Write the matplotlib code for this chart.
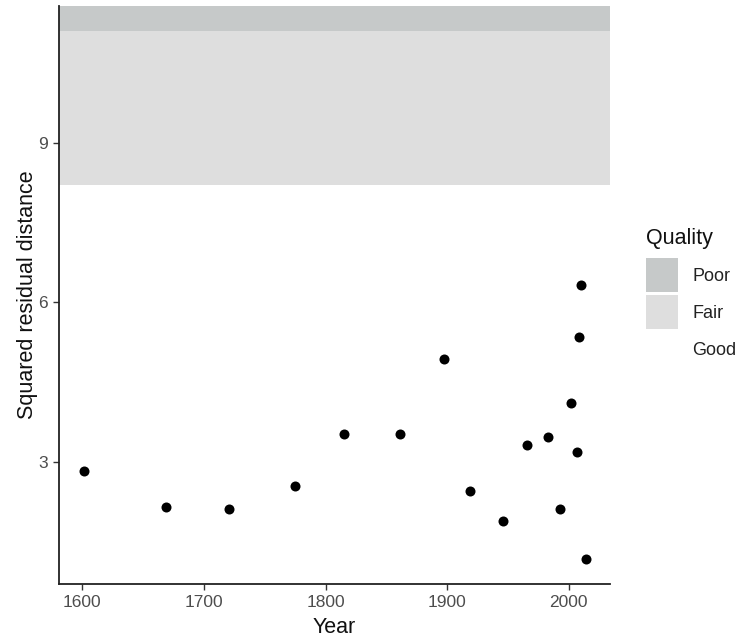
import numpy as np
import matplotlib.pyplot as plt
from matplotlib.patches import Patch

plt.rcParams['font.family'] = ['Liberation Sans', 'DejaVu Sans']

# Residuals per year
years = [1601.6, 1668.6, 1720.7, 1774.5, 1815.6, 1861.5, 1897.4, 1918.5, 1946.0,
         1965.4, 1982.7, 1993.2, 2002.0, 2006.9, 2008.8, 2010.5, 2014.0]
sq_resid = [2.83, 2.15, 2.11, 2.54, 3.53, 3.53, 4.94, 2.45, 1.88,
            3.31, 3.46, 2.12, 4.10, 3.18, 5.34, 6.32, 1.18]

# Quality bands (lower, upper)
quality_labels = ['Poor', 'Fair', 'Good']
band_low = [11.09, 8.20, 0.0]
band_high = [20.0, 11.09, 8.20]
band_colors = ['#c6c9c9', '#dedede', '#ffffff']

fig = plt.figure(figsize=(7.39, 6.42), dpi=100)
ax = fig.add_axes([0.0802, 0.0903, 0.7452, 0.9004])

for lo, hi, c in zip(band_low, band_high, band_colors):
    ax.axhspan(lo, hi, color=c, lw=0, zorder=0)

ax.scatter(years, sq_resid, s=52, color='black', zorder=3, linewidths=0)

ax.set_xlim(1581, 2034)
ax.set_ylim(0.70, 11.57)
ax.set_xticks([1600, 1700, 1800, 1900, 2000])
ax.set_yticks([3, 6, 9])

for side in ['top', 'right']:
    ax.spines[side].set_visible(False)
for side in ['left', 'bottom']:
    ax.spines[side].set_linewidth(1.3)
    ax.spines[side].set_color('#222222')
ax.tick_params(length=4, width=1, color='#333333', labelcolor='#4d4d4d',
               labelsize=12.5, pad=4)

ax.set_xlabel('Year', fontsize=15.5, color='#111111', labelpad=5)
ax.set_ylabel('Squared residual distance', fontsize=15.5, color='#111111', labelpad=0)

# Legend: title as its own text, keys below it
fig.text(0.874, 0.629, 'Quality', fontsize=15.5, color='#111111',
         ha='left', va='center')
handles = [Patch(facecolor=c, edgecolor='none') for c in band_colors]
leg = fig.legend(handles, quality_labels, loc='upper left',
                 bbox_to_anchor=(0.874, 0.598), frameon=False, fontsize=13,
                 handlelength=1.78, handleheight=2.52, labelspacing=0.17,
                 handletextpad=0.8, borderpad=0, borderaxespad=0)
for t in leg.get_texts():
    t.set_color('#222222')

fig.savefig('out.png', dpi=100)
